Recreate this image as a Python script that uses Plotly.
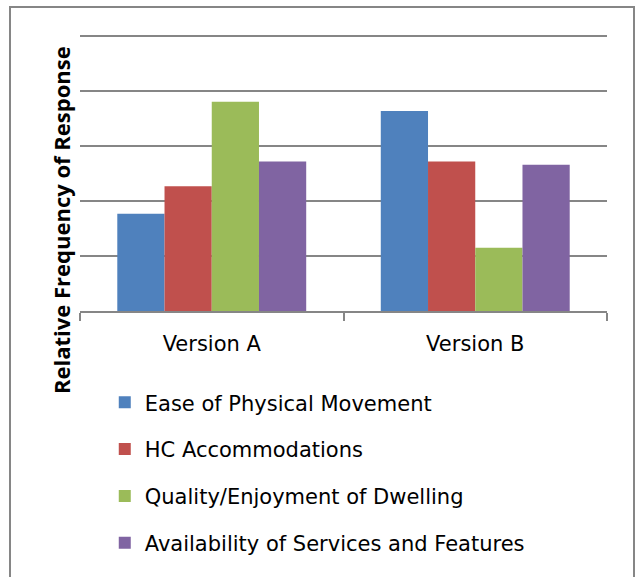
import plotly.graph_objects as go

categories = ["Version A", "Version B"]
series_names = [
    "Ease of Physical Movement",
    "HC Accommodations",
    "Quality/Enjoyment of Dwelling",
    "Availability of Services and Features",
]
ease_values = [0.0885, 0.182]
hc_values = [0.1135, 0.136]
quality_values = [0.1905, 0.0575]
availability_values = [0.136, 0.133]
colors = ["#4F81BD", "#C0504D", "#9BBB59", "#8064A2"]
y_title = "Relative Frequency of Response"

values = [ease_values, hc_values, quality_values, availability_values]

fig = go.Figure()
for i, (name, vals) in enumerate(zip(series_names, values)):
    fig.add_trace(go.Bar(
        x=categories, y=vals, name=name,
        marker=dict(color=colors[i], line=dict(width=0)),
        legendgroup=f"g{i}",
    ))

font_family = "'DejaVu Sans', sans-serif"
title_family = "'Open Sans', sans-serif"
fig.update_layout(
    width=637, height=577,
    margin=dict(l=80, r=30, t=33, b=266),
    paper_bgcolor="white", plot_bgcolor="white",
    barmode="group", bargap=0.283, bargroupgap=0,
    font=dict(family=font_family, size=21, color="black"),
    showlegend=True,
    legend=dict(
        x=0.047, xanchor="left", y=-0.256, yanchor="top",
        orientation="v", tracegroupgap=16.5,
        font=dict(size=21, family=font_family, color="black"),
        itemwidth=30, bgcolor="rgba(0,0,0,0)",
    ),
    xaxis=dict(
        showline=True, linecolor="#868686", linewidth=2,
        ticks="outside", tickson="boundaries", ticklen=8, tickcolor="#868686", tickwidth=2,
        showgrid=False, tickfont=dict(size=21, family=font_family), ticklabelstandoff=13,
        automargin=False,
    ),
    yaxis=dict(
        range=[0, 0.253], dtick=0.05, showticklabels=False,
        showgrid=True, gridcolor="#868686", gridwidth=2,
        zeroline=False, showline=False, ticks="",
        automargin=False,
    ),
    annotations=[dict(
        text=f"<b>{y_title}</b>", textangle=-90,
        xref="paper", yref="paper", x=(61 - 80) / 527, y=(311 - 220) / 278,
        xanchor="center", yanchor="middle", showarrow=False,
        font=dict(size=22, family=title_family, color="black"),
    )],
    shapes=[dict(
        type="rect", xref="paper", yref="paper",
        x0=(10 - 80) / 527, x1=(634 - 80) / 527,
        y0=-1.5, y1=(311 - 7) / 278,
        line=dict(color="#868686", width=2), fillcolor="rgba(0,0,0,0)", layer="below",
    )],
)

fig.write_html("out.html", config={"displayModeBar": False},
               post_script="document.body.style.margin='0px';")
